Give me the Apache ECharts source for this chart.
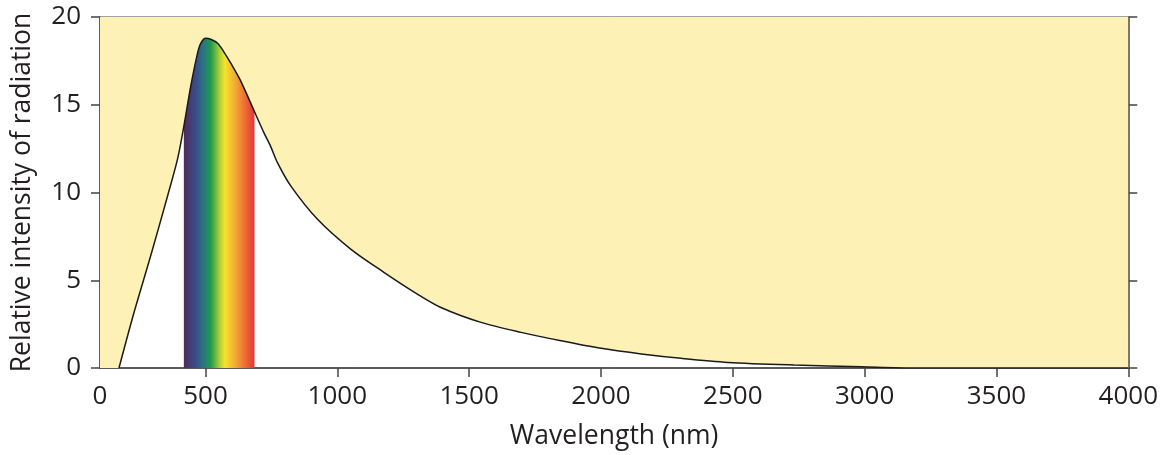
<!DOCTYPE html>
<html>
<head>
<meta charset="utf-8">
<script src="https://cdn.jsdelivr.net/npm/echarts@6/dist/echarts.min.js"></script>
<style>
  html, body { margin: 0; padding: 0; background: #fff; }
  #chart { width: 1161px; height: 455px; }
</style>
</head>
<body>
<div id="chart"></div>
<script>
// curve (wavelength nm -> relative intensity)
var wavelengths = [172, 229, 292, 356, 394, 418, 444, 470, 482, 501, 520, 546, 569, 596, 634, 686,
  722, 748, 773, 824, 925, 1052, 1178, 1305, 1393, 1545, 1697, 1849, 2001, 2153, 2304, 2482, 2733, 2988, 3190, 4000]
var intensity = [0, 3.16, 6.38, 9.79, 11.9, 13.77, 16.04, 17.94, 18.5, 18.79, 18.73, 18.5, 18.03, 17.37, 16.35, 14.6,
  13.4, 12.6, 11.7, 10.36, 8.47, 6.76, 5.44, 4.2, 3.45, 2.6, 2.03, 1.55, 1.12, 0.8, 0.55, 0.32, 0.17, 0.07, 0, 0]

// visible band
var visibleBand = [418, 686]
var spectrumColors = ['#4d2c5a', '#3b4a89', '#2a7283', '#1f9a4b', '#a9cc3a', '#f4e42c', '#f3a535', '#ee6a33', '#e4353a']
var spectrumStops = [0, 0.16, 0.27, 0.38, 0.5, 0.58, 0.74, 0.87, 1]

// axes
var xStart = 100
var xTickValues = [500, 1000, 1500, 2000, 2500, 3000, 3500, 4000]
var xLabelValues = [100, 500, 1000, 1500, 2000, 2500, 3000, 3500, 4000]
var xTickLabels = ['0', '500', '1000', '1500', '2000', '2500', '3000', '3500', '4000']
var yTicks = [0, 5, 10, 15, 20]

var chart = echarts.init(document.getElementById('chart'), null, { renderer: 'canvas' })

var curve = wavelengths.map(function (w, i) { return [w, intensity[i]] })
var axisColor = '#444'
var textColor = '#231f20'
var yellow = '#fdf1b6'
var font = 'Open Sans'

var option = {
  animation: false,
  backgroundColor: '#fff',
  grid: {
    left: 100, right: 32, top: 17, bottom: 86,
    show: true,
    backgroundColor: '#fff',
    borderColor: axisColor,
    borderWidth: 1
  },
  xAxis: {
    type: 'value',
    min: xStart,
    max: 4000,
    name: 'Wavelength (nm)',
    nameLocation: 'middle',
    nameGap: 55,
    nameTextStyle: { fontFamily: font, fontSize: 26.5, color: textColor },
    axisLine: { lineStyle: { color: axisColor, width: 1.5 } },
    axisTick: { show: true, inside: false, length: 9, customValues: xTickValues, lineStyle: { color: axisColor, width: 1.5 } },
    axisLabel: {
      customValues: xLabelValues,
      margin: 15.5,
      fontFamily: font, fontSize: 26, color: textColor,
      formatter: function (v) { return xTickLabels[xLabelValues.indexOf(v)] }
    },
    splitLine: { show: false }
  },
  yAxis: [{
    type: 'value',
    min: yTicks[0],
    max: yTicks[yTicks.length - 1],
    interval: 5,
    name: 'Relative intensity of radiation',
    nameLocation: 'middle',
    nameGap: 64,
    nameTextStyle: { fontFamily: font, fontSize: 26.5, color: textColor },
    axisLine: { show: true, lineStyle: { color: axisColor, width: 1.5 } },
    axisTick: { show: true, inside: false, length: 9, lineStyle: { color: axisColor, width: 1.5 } },
    axisLabel: { margin: 19, fontFamily: font, fontSize: 26, color: textColor },
    splitLine: { show: false }
  }, {
    type: 'value',
    position: 'right',
    min: yTicks[0],
    max: yTicks[yTicks.length - 1],
    interval: 5,
    axisLine: { show: true, lineStyle: { color: axisColor, width: 1.5 } },
    axisTick: { show: true, inside: false, length: 9, lineStyle: { color: axisColor, width: 1.5 } },
    axisLabel: { show: false },
    splitLine: { show: false }
  }],
  series: [{
    // yellow fill above the curve, spectrum band sits underneath it
    type: 'line',
    z: 3,
    data: curve,
    smooth: 0.3,
    symbol: 'none',
    lineStyle: { color: '#1a1a1a', width: 1.5 },
    areaStyle: { origin: 'end', color: yellow, opacity: 1 },
    markArea: {
      silent: true,
      z: 1,
      data: [
        [{
          xAxis: visibleBand[0],
          itemStyle: {
            color: new echarts.graphic.LinearGradient(0, 0, 1, 0, spectrumStops.map(function (s, i) {
              return { offset: s, color: spectrumColors[i] }
            }))
          }
        }, { xAxis: visibleBand[1] }],
        // left strip before the curve starts
        [{ xAxis: xStart, itemStyle: { color: yellow } }, { xAxis: wavelengths[0] }]
      ]
    }
  }]
}

chart.setOption(option)
</script>
</body>
</html>
